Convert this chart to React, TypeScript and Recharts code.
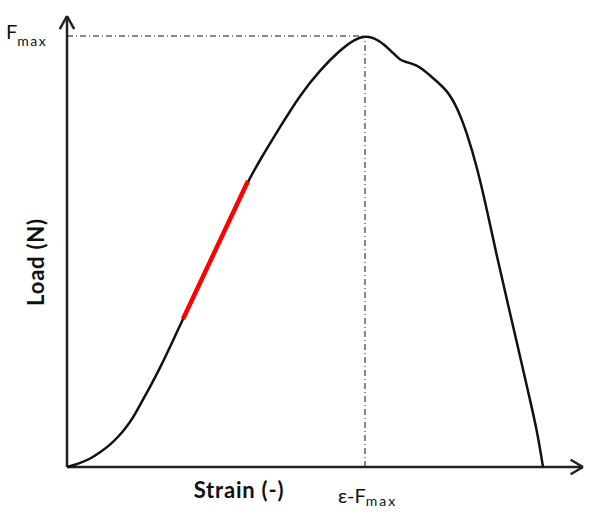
import React from 'react';
import { LineChart, Line, XAxis, YAxis, ReferenceLine } from 'recharts';

// strain (% of axis length) and load (% of axis height)
const strain = [0, 2.13, 4.46, 6.4, 8.33, 9.88, 11.24, 12.79, 14.15, 16.09, 18.02, 19.57, 21.12, 22.48, 25.78, 28.68, 31.59, 35.08, 37.4, 41.28, 45.16, 49.03, 52.91, 55.81, 57.75, 59.69, 61.63, 63.18, 64.53, 65.7, 67.05, 68.41, 70.93, 73.64, 75.58, 77.52, 79.46, 81.4, 83.33, 85.27, 87.21, 89.15, 91.09, 92.25];
const load = [0, 0.67, 1.77, 3.22, 4.88, 6.65, 8.43, 10.86, 13.75, 17.74, 21.95, 25.61, 29.49, 32.82, 40.82, 47.87, 54.94, 63.41, 68.07, 75.39, 82.48, 88.03, 92.46, 94.9, 95.57, 95.12, 93.57, 91.8, 90.24, 89.8, 89.36, 88.69, 86.25, 83.59, 79.82, 74.06, 66.52, 56.98, 46.56, 37.03, 27.49, 17.74, 8.2, 0];

// linear (elastic) part highlighted in red
const slopeStrain = [22.48, 35.08];
const slopeLoad = [32.82, 63.41];

const fMax = 95.57;
const strainAtFMax = 57.75;

const curve = strain.map((s, i) => ({ strain: s, load: load[i] }));
const slope = slopeStrain.map((s, i) => ({ strain: s, load: slopeLoad[i] }));

const font = 'Lato, "Liberation Sans", sans-serif';
const axisColor = '#222';

const FmaxLabel = ({ viewBox }: any) => {
  const x = viewBox.x;
  const y = viewBox.y;
  return (
    <text x={x - 61} y={y + 3} fontFamily={font} fill="#111">
      <tspan fontSize={20}>F</tspan>
      <tspan fontSize={14} dy={7} letterSpacing={1.5}>max</tspan>
    </text>
  );
};

const StrainFmaxLabel = ({ viewBox }: any) => {
  const x = viewBox.x;
  const y = viewBox.y + viewBox.height;
  return (
    <text x={x - 27} y={y + 36} fontFamily={font} fill="#111">
      <tspan fontSize={20}>ε-F</tspan>
      <tspan fontSize={14} dy={3} letterSpacing={2}>max</tspan>
    </text>
  );
};

export default function App() {
  return (
    <div style={{ position: 'absolute', left: 0, top: 0, background: '#fff' }}>
      <LineChart width={600} height={516} margin={{ top: 16, right: 17, bottom: 49, left: 67 }}>
        <XAxis type="number" dataKey="strain" domain={[0, 100]} hide />
        <YAxis type="number" dataKey="load" domain={[0, 100]} hide />

        {/* axes with arrow heads */}
        <ReferenceLine segment={[{ x: 0, y: 0 }, { x: 100, y: 0 }]} stroke={axisColor} strokeWidth={2.5} ifOverflow="visible" />
        <ReferenceLine segment={[{ x: 0, y: 0 }, { x: 0, y: 100 }]} stroke={axisColor} strokeWidth={2.5} ifOverflow="visible" />
        <ReferenceLine segment={[{ x: 97.6, y: -1.6 }, { x: 100, y: 0 }]} stroke={axisColor} strokeWidth={2.5} ifOverflow="visible" />
        <ReferenceLine segment={[{ x: 97.6, y: 1.6 }, { x: 100, y: 0 }]} stroke={axisColor} strokeWidth={2.5} ifOverflow="visible" />
        <ReferenceLine segment={[{ x: -1.4, y: 97.1 }, { x: 0, y: 100 }]} stroke={axisColor} strokeWidth={2.5} ifOverflow="visible" />
        <ReferenceLine segment={[{ x: 1.4, y: 97.1 }, { x: 0, y: 100 }]} stroke={axisColor} strokeWidth={2.5} ifOverflow="visible" />

        {/* Fmax guides */}
        <ReferenceLine
          segment={[{ x: 0, y: fMax }, { x: strainAtFMax, y: fMax }]}
          stroke="#111"
          strokeWidth={1}
          strokeDasharray="6 3 1 3"
          label={<FmaxLabel />}
        />
        <ReferenceLine
          segment={[{ x: strainAtFMax, y: 0 }, { x: strainAtFMax, y: fMax }]}
          stroke="#111"
          strokeWidth={1}
          strokeDasharray="6 3 1 3"
          label={<StrainFmaxLabel />}
        />

        <Line data={curve} dataKey="load" type="basis" stroke="#111" strokeWidth={2.5} dot={false} isAnimationActive={false} />
        <Line data={slope} dataKey="load" type="linear" stroke="#ff0000" strokeWidth={4.5} dot={false} isAnimationActive={false} />

        <text x={239} y={498} textAnchor="middle" fontFamily={font} fontWeight="bold" fontSize={22} letterSpacing={0.8} fill="#111">
          Strain (-)
        </text>
        <text x={44} y={262} textAnchor="middle" fontFamily={font} fontWeight="bold" fontSize={22} letterSpacing={0.8} fill="#111" transform="rotate(-90 44 262)">
          Load (N)
        </text>
      </LineChart>
    </div>
  );
}
